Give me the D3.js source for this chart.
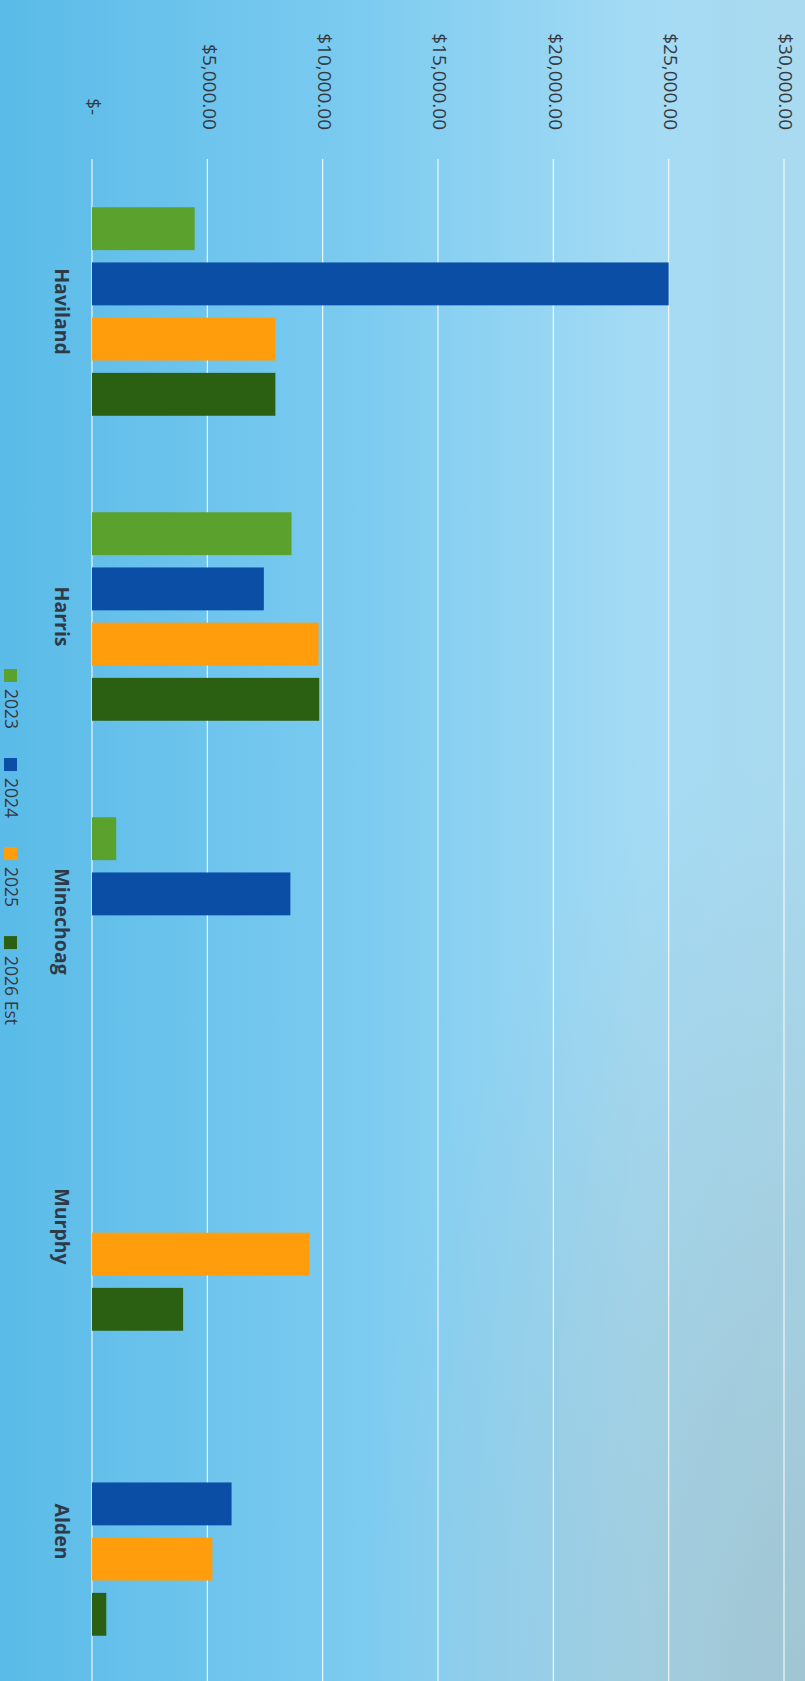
<!DOCTYPE html>
<html>
<head>
<meta charset="utf-8">
<script src="https://cdn.jsdelivr.net/npm/d3@7/dist/d3.min.js"></script>
<style>
  html, body { margin: 0; padding: 0; background: #6cc3ea; }
  svg { display: block; }
  text { font-family: "Open Sans", "Liberation Sans", sans-serif; }
</style>
</head>
<body>
<svg id="chart" width="805" height="1681"></svg>
<script>
// ---- data ----
const categories = ["Haviland", "Harris", "Minechoag", "Murphy", "Alden"];
const seriesNames = ["2023", "2024", "2025", "2026 Est"];
const values2023 = [4450, 8650, 1050, null, null];
const values2024 = [25000, 7450, 8600, null, 6050];
const values2025 = [7950, 9820, null, 9430, 5220];
const values2026 = [7950, 9850, null, 3950, 620];
const seriesColors = ["#5ba12d", "#0b4ea6", "#ff9d0c", "#2b5f12"];
const tickValues = [0, 5000, 10000, 15000, 20000, 25000, 30000];

const seriesValues = [values2023, values2024, values2025, values2026];

const W = 805, H = 1681;
const svg = d3.select("#chart");

// background (photo gradient)
const defs = svg.append("defs");
const g1 = defs.append("linearGradient").attr("id", "bgH").attr("x1", "0").attr("y1", "0").attr("x2", "1").attr("y2", "0");
g1.append("stop").attr("offset", "0").attr("stop-color", "#5abbe8");
g1.append("stop").attr("offset", "0.45").attr("stop-color", "#7ccbf0");
g1.append("stop").attr("offset", "0.8").attr("stop-color", "#a4dbf4");
g1.append("stop").attr("offset", "1").attr("stop-color", "#aadaef");
const g2 = defs.append("radialGradient").attr("id", "bgShade").attr("cx", "1").attr("cy", "1").attr("r", "0.55");
g2.append("stop").attr("offset", "0").attr("stop-color", "#9dbcc6").attr("stop-opacity", 0.7);
g2.append("stop").attr("offset", "1").attr("stop-color", "#9dbcc6").attr("stop-opacity", 0);
svg.append("rect").attr("width", W).attr("height", H).attr("fill", "url(#bgH)");
svg.append("rect").attr("width", W).attr("height", H).attr("fill", "url(#bgShade)");

// scales (chart is a column chart rotated 90deg clockwise)
const x = d3.scaleLinear().domain([0, 30000]).range([92, 784]);
const y = d3.scaleBand().domain(categories).range([159, 1684]);
const y1 = d3.scaleBand().domain(seriesNames).range([0, y.bandwidth()])
  .paddingInner(0.223).paddingOuter(0.874);

// gridlines
svg.append("g").selectAll("line").data(tickValues).join("line")
  .attr("x1", d => x(d)).attr("x2", d => x(d))
  .attr("y1", 159).attr("y2", H)
  .attr("stroke", "#ffffff").attr("stroke-opacity", 0.85).attr("stroke-width", 1.2);

// tick labels
const fmt = d => d === 0 ? "$-   " : "$" + d3.format(",.2f")(d);
svg.append("g").selectAll("text").data(tickValues).join("text")
  .attr("transform", d => `translate(${x(d) + 2},130) rotate(90)`)
  .attr("text-anchor", "end").attr("dy", "0.35em")
  .style("white-space", "pre")
  .attr("font-size", 19).attr("fill", "#353a42")
  .text(fmt);

// bars
const barData = [];
categories.forEach((c, i) => {
  seriesNames.forEach((s, j) => {
    const v = seriesValues[j][i];
    if (v != null) barData.push({ cat: c, series: s, value: v, color: seriesColors[j] });
  });
});
svg.append("g").selectAll("rect").data(barData).join("rect")
  .attr("x", x(0))
  .attr("y", d => y(d.cat) + y1(d.series))
  .attr("width", d => x(d.value) - x(0))
  .attr("height", y1.bandwidth())
  .attr("fill", d => d.color);

// category labels
svg.append("g").selectAll("text").data(categories).join("text")
  .attr("transform", d => `translate(62,${y(d) + y.bandwidth() / 2}) rotate(90)`)
  .attr("text-anchor", "middle").attr("dy", "0.35em")
  .attr("font-size", 19.5).attr("font-weight", "bold").attr("fill", "#2e3a48")
  .text(d => d);

// legend
const legend = svg.append("g");
let cursor = 669;
seriesNames.forEach((s, j) => {
  legend.append("rect").attr("x", 4).attr("y", cursor).attr("width", 13).attr("height", 13)
    .attr("fill", seriesColors[j]);
  const t = legend.append("text")
    .attr("transform", `translate(11,${cursor + 20}) rotate(90)`)
    .attr("dy", "0.35em").attr("font-size", 17.5).attr("fill", "#353a42")
    .text(s);
  const len = t.node().getComputedTextLength();
  cursor += 20 + len + 29;
});
</script>
</body>
</html>
